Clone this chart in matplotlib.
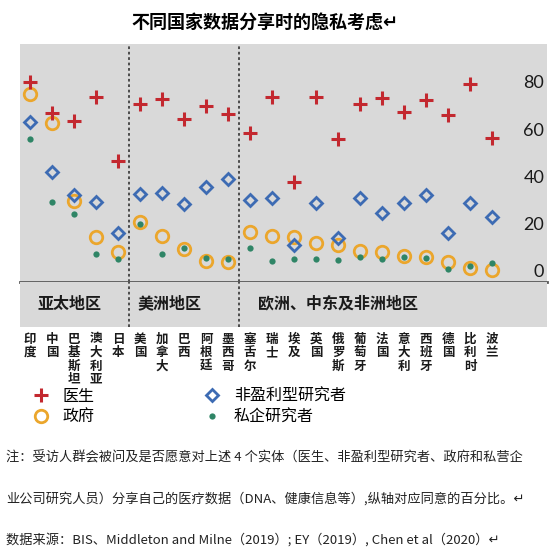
import numpy as np
import matplotlib
matplotlib.use("Agg")
import matplotlib.pyplot as plt
from matplotlib.lines import Line2D

plt.rcParams['font.family'] = ['Noto Sans CJK SC', 'DejaVu Sans']

# -------------------------------------------------
# Data (share of respondents willing to share, %)
# -------------------------------------------------
countries = [
    "印度", "中国", "巴基斯坦", "澳大利亚", "日本",
    "美国", "加拿大", "巴西", "阿根廷", "墨西哥",
    "塞舌尔", "瑞士", "埃及", "英国", "俄罗斯", "葡萄牙",
    "法国", "意大利", "西班牙", "德国", "比利时", "波兰",
]

doctors = [80, 66.6, 63.5, 73.7, 46.4,
           70.4, 72.8, 64.2, 69.7, 66.3,
           58.4, 73.4, 37.4, 73.4, 55.7, 70.4,
           73.0, 67.3, 72.3, 65.9, 79.0, 56.4]

government = [74.7, 62.4, 29.6, 14.3, 8.0,
              20.7, 14.7, 9.2, 4.1, 3.6,
              16.2, 14.7, 14.4, 11.9, 10.9, 8.5,
              8.0, 6.3, 5.6, 3.6, 1.3, 0.3]

nonprofit = [62.8, 41.9, 31.9, 29.0, 15.8,
             32.6, 33.0, 28.1, 35.6, 38.9,
             29.9, 30.9, 10.9, 28.5, 14.0, 30.6,
             24.6, 28.5, 32.0, 15.8, 28.5, 22.9]

private = [55.7, 29.1, 24.1, 6.9, 5.1,
           19.8, 6.9, 9.7, 5.2, 4.8,
           9.5, 4.2, 4.8, 4.9, 4.5, 5.9,
           5.1, 5.6, 5.2, 0.6, 2.1, 3.4]

regions = ["亚太地区", "美洲地区", "欧洲、中东及非洲地区"]
region_sizes = [5, 5, 12]

yticks = [0, 20, 40, 60, 80]

RED = "#c3282f"
ORANGE = "#eba62c"
BLUE = "#3d6bb3"
GREEN = "#2f8566"
BG = "#d9d9d9"

# -------------------------------------------------
# Layout
# -------------------------------------------------
W, H = 556, 555
fig = plt.figure(figsize=(W / 100, H / 100), dpi=100)

ax = fig.add_axes([20 / W, 1 - 282 / H, 527 / W, 238 / H])
band = fig.add_axes([20 / W, 1 - 327 / H, 527 / W, 45 / H], sharex=ax)

x = np.arange(len(countries))

ax.set_facecolor(BG)
band.set_facecolor(BG)

ax.plot(x, government, "o", ms=9, mfc="none", mec=ORANGE, mew=2, zorder=3)
ax.plot(x, nonprofit, "D", ms=6.3, mfc="none", mec=BLUE, mew=2, zorder=4)
ax.plot(x, private, "o", ms=4.5, color=GREEN, mew=0, zorder=5)
ax.plot(x, doctors, "+", ms=10, mec=RED, mew=2.2, zorder=6)

ax.set_xlim(-0.4545, 23.5)
ax.set_ylim(-4.8, 96)

for s in ["top", "left", "right"]:
    ax.spines[s].set_visible(False)
ax.spines["bottom"].set_color("#595959")
ax.spines["bottom"].set_linewidth(2)
ax.tick_params(axis="x", bottom=False, labelbottom=False)

ax.yaxis.tick_right()
ax.set_yticks(yticks)
ax.set_yticklabels([str(t) for t in yticks])
ax.tick_params(axis="y", length=0, pad=-2, labelsize=13)
for lbl in ax.get_yticklabels():
    lbl.set_horizontalalignment("right")
    lbl.set_family("Lato")
    lbl.set_color("#1a1a1a")

# region dividers
bounds = np.cumsum(region_sizes)[:-1] - 0.5
for b in bounds:
    ax.axvline(b, color="#404040", ls=(0, (1.5, 1.5)), lw=1.3, zorder=1)
    band.axvline(b, color="#404040", ls=(0, (1.5, 1.5)), lw=1.3, zorder=1)

# region band
band.set_ylim(0, 1)
for s in band.spines.values():
    s.set_visible(False)
band.tick_params(axis="y", left=False, labelleft=False)
region_pos = [1.8, 6.35, 14.0]
for name, px in zip(regions, region_pos):
    band.text(px, 0.52, name, ha="center", va="center",
              fontsize=11.5, fontweight="bold", color="#1a1a1a")

band.set_xticks(x)
band.set_xticklabels(["\n".join(c) for c in countries], va="top",
                     linespacing=1.05)
band.tick_params(axis="x", length=0, pad=4, labelsize=9)
for lbl in band.get_xticklabels():
    lbl.set_fontweight("bold")
    lbl.set_color("#1a1a1a")

# title
fig.text(265 / W, 1 - 22 / H, "不同国家数据分享时的隐私考虑↵",
         ha="center", va="center", fontsize=13, fontweight="bold")

# legend
handles = [
    Line2D([], [], ls="none", marker="+", ms=10, mec=RED, mew=2.2),
    Line2D([], [], ls="none", marker="o", ms=9, mfc="none", mec=ORANGE, mew=2),
    Line2D([], [], ls="none", marker="D", ms=6.3, mfc="none", mec=BLUE, mew=2),
    Line2D([], [], ls="none", marker="o", ms=4.5, color=GREEN, mew=0),
]
labels = ["医生", "政府", "非盈利型研究者", "私企研究者"]
fig.legend(handles, labels, ncol=2, loc="upper left",
           bbox_to_anchor=(31 / W, 1 - 388 / H), frameon=False,
           fontsize=11.5, handlelength=1.2, handletextpad=0.75,
           columnspacing=6.8, labelspacing=0.25, borderpad=0,
           borderaxespad=0)

# notes
notes = [
    "注：受访人群会被问及是否愿意对上述 4 个实体（医生、非盈利型研究者、政府和私营企",
    "业公司研究人员）分享自己的医疗数据（DNA、健康信息等）,纵轴对应同意的百分比。↵",
    "数据来源：BIS、Middleton and Milne（2019）; EY（2019）, Chen et al（2020）↵",
]
for i, line in enumerate(notes):
    fig.text(6 / W, 1 - (458 + 41 * i) / H, line, ha="left", va="center",
             fontsize=9.5, color="#222222")

fig.savefig("out.png", dpi=100)
